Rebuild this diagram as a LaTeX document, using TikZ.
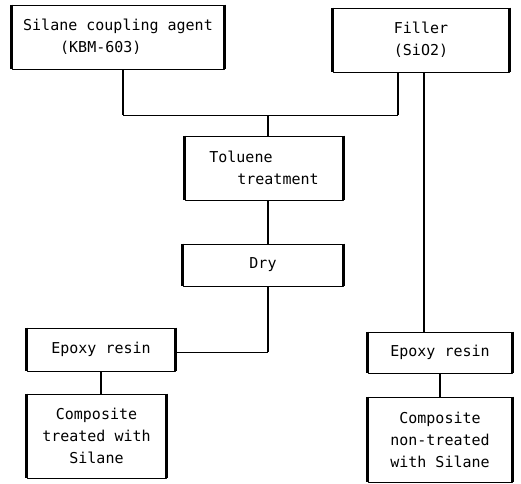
\documentclass[tikz,border=0pt]{standalone}
\usepackage{fontspec}
\newfontfamily\flowfont{DejaVu Sans Mono}
\begin{document}
\begin{tikzpicture}[x=1pt,y=-1pt,line join=round,
  box/.style={draw,line width=.7pt,inner sep=0pt,align=center,font=\flowfont\fontsize{15}{22}\selectfont},
  vline/.style={line width=2.4pt},
  hline/.style={line width=.8pt},
  side/.style={line width=2.4pt}]
\useasboundingbox (0,0) rectangle (521,483);
% boxes
\node[box,minimum width=212,minimum height=64,align=left] (silane) at (118,37) {Silane coupling agent\\\hspace*{37pt}(KBM-603)};
\node[box,minimum width=176,minimum height=64] (filler) at (421,40) {Filler\\(SiO2)};
\node[box,minimum width=158,minimum height=64,align=left] (toluene) at (264,168) {Toluene\\\hspace*{28pt}treatment};
\node[box,minimum width=160,minimum height=42] (dry) at (263,265) {Dry};
\node[box,minimum width=148,minimum height=43] (epoxyL) at (101,349.5) {Epoxy resin};
\node[box,minimum width=139,minimum height=84] (compL) at (96.5,436) {Composite\\treated with\\Silane};
\node[box,minimum width=144,minimum height=41] (epoxyR) at (440,352.5) {Epoxy resin};
\node[box,minimum width=144,minimum height=85] (compR) at (440,439.5) {Composite\\non-treated\\with Silane};
\foreach \n in {silane,filler,toluene,dry,epoxyL,compL,epoxyR,compR}
  \draw[side] (\n.north west) -- (\n.south west) (\n.north east) -- (\n.south east);
% joints
\coordinate (j1) at (123,115);
\coordinate (j2) at (398,115);
\coordinate (j3) at (268,115);
\coordinate (j4) at (268,352);
\coordinate (j5) at (424,0);
% connectors
\draw[vline] (j1 |- silane.south) -- (j1);
\draw[hline] (j1) -- (j2);
\draw[vline] (j2) -- (j2 |- filler.south);
\draw[vline] (j3) -- (j3 |- toluene.north);
\draw[vline] (j3 |- toluene.south) -- (j3 |- dry.north);
\draw[vline] (j3 |- dry.south) -- (j4);
\draw[hline] (j4) -- (j4 -| epoxyL.east);
\draw[vline] (epoxyL.south) -- (epoxyL.south |- compL.north);
\draw[vline] (j5 |- filler.south) -- (j5 |- epoxyR.north);
\draw[vline] (epoxyR.south) -- (epoxyR.south |- compR.north);
\end{tikzpicture}
\end{document}
